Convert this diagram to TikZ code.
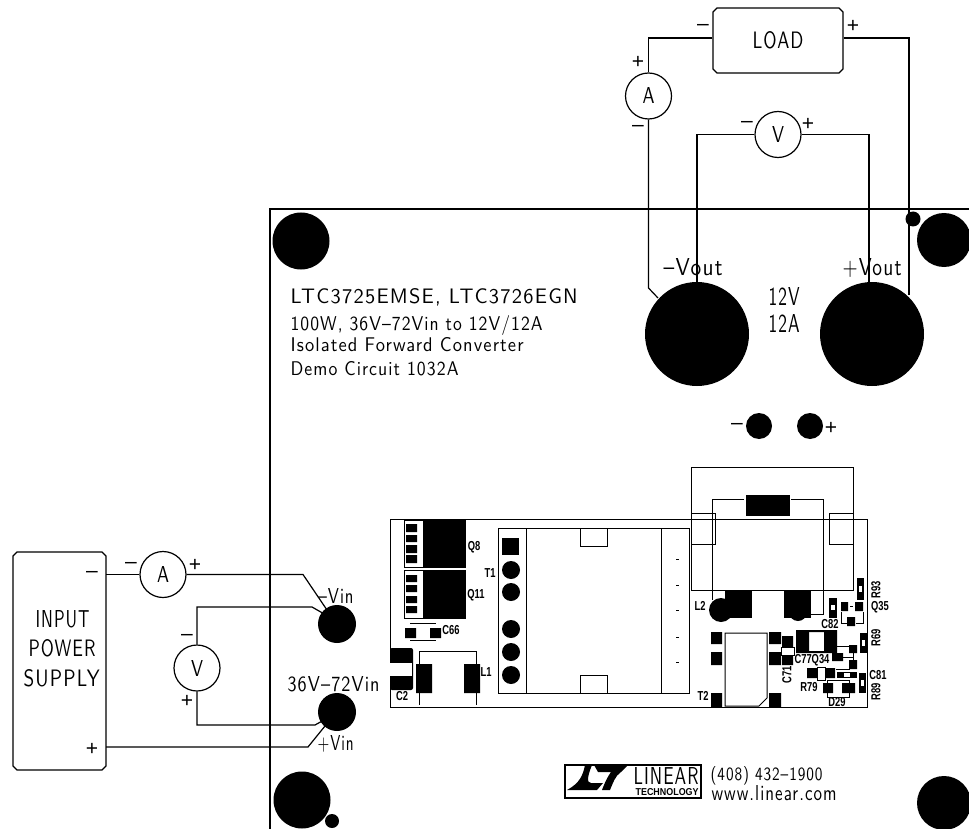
\documentclass[tikz,border=0pt]{standalone}
\usepackage{fontspec}
\setsansfont{Latin Modern Sans}[LetterSpace=6]
\newfontfamily\tagfont{Liberation Sans}[FakeStretch=0.72]
\newfontfamily\logofont{Liberation Sans}
\newcommand{\cad}[3]{\resizebox{#1pt}{#2pt}{\sffamily #3}}
\usetikzlibrary{positioning,calc,shapes.misc}
\tikzset{
	bench/.style={x=1pt,y=-1pt,line width=1.2pt,every node/.style={inner sep=0pt}},
	meter/.style={circle,draw,minimum size=46pt,fill=white},
	supply/.style={chamfered rectangle,chamfered rectangle xsep=2pt,chamfered rectangle ysep=2pt,draw},
	post/.style={circle,fill=black,inner sep=0pt},
	sign/.style={font=\logofont\fontsize{21}{21}\selectfont},
	lettering/.style={anchor=base west},
	tag/.style={font=\tagfont\bfseries\fontsize{13}{13}\selectfont},
	wire/.style={line width=1.2pt},
	outline/.style={line width=1pt}
}

\begin{document}
\begin{tikzpicture}[bench]
	\useasboundingbox (0,0) rectangle (969,829);

	\draw (969,209) -- (270,209) -- (270,829);

	\node[post,minimum size=57pt] (holea) at (301,241) {};
	\node[post,minimum size=54pt] (holeb) at (944,240) {};
	\node[post,minimum size=57pt] (holec) at (302,800) {};
	\node[post,minimum size=54pt] (holed) at (944,803) {};
	\node[post,minimum size=15pt] (dota) at (913,219) {};
	\node[post,minimum size=14pt] (dotb) at (332,821) {};

	\node[post,minimum size=104pt] (vneg) at (697,334) {};
	\node[post,minimum size=104pt] (vpos) at (872,334) {};
	\node[post,minimum size=26pt] (testneg) at (759,426) {};
	\node[post,minimum size=26pt] (testpos) at (810,426) {};
	\node[post,minimum size=38pt] (inneg) at (337,624) {};
	\node[post,minimum size=38pt] (inpos) at (337,712) {};

	\node[supply,minimum width=130pt,minimum height=65pt] (load) at (778,40.5) {\cad{51}{17}{LOAD}};
	\node[supply,minimum width=93pt,minimum height=218pt] (source) at (59.5,661) {\phantom{X}};
	\node[lettering] (inputa) at (35,627) {\cad{54}{17}{INPUT}};
	\node[lettering] (inputb) at (28,656) {\cad{67}{17}{POWER}};
	\node[lettering] (inputc) at (23,686) {\cad{76}{17}{SUPPLY}};
	\node[meter] (amout) at (648.5,96) {\cad{12}{16}{A}};
	\node[meter] (voltout) at (778,134.5) {\cad{12}{16}{V}};
	\node[meter] (amin) at (163,574.5) {\cad{12}{16}{A}};
	\node[meter] (voltin) at (197,668) {\cad{12}{16}{V}};

	\coordinate (loadl) at (648.5,38);
	\coordinate (loadr) at (909,38);
	\coordinate (amlow) at (648.5,288);
	\coordinate (negpin) at (658,298);
	\coordinate (posend) at (909,295);
	\coordinate (vlefta) at (697,134.5);
	\coordinate (vleftb) at (697,290);
	\coordinate (vrighta) at (869,134.5);
	\coordinate (vrightb) at (869,290);
	\coordinate (srcneg) at (106,574.5);
	\coordinate (srcpos) at (106,747);
	\coordinate (ambend) at (303,574.5);
	\coordinate (ampin) at (327,610);
	\coordinate (vtopa) at (197,607);
	\coordinate (vtopb) at (312,607);
	\coordinate (vtopc) at (326,615);
	\coordinate (vlowa) at (197,725);
	\coordinate (vlowb) at (315,725);
	\coordinate (vlowc) at (324,720);
	\coordinate (posbend) at (308,747);
	\coordinate (pospin) at (325,726);

	\draw[wire] (load.west |- loadl) -- (loadl) -- (amout.north);
	\draw[wire] (amout.south) -- (amlow) -- (negpin);
	\draw[wire] (load.east |- loadr) -- (loadr) -- (posend);
	\draw[wire] (voltout.west) -- (vlefta) -- (vleftb);
	\draw[wire] (voltout.east) -- (vrighta) -- (vrightb);
	\draw[wire] (srcneg) -- (amin.west);
	\draw[wire] (amin.east) -- (ambend) -- (ampin);
	\draw[wire] (voltin.north) -- (vtopa) -- (vtopb) -- (vtopc);
	\draw[wire] (voltin.south) -- (vlowa) -- (vlowb) -- (vlowc);
	\draw[wire] (srcpos) -- (posbend) -- (pospin);

	\node[sign] (la) at (703,27) {–};
	\node[sign] (lb) at (853,26) {+};
	\node[sign] (lc) at (638,62) {+};
	\node[sign] (ld) at (638,128) {–};
	\node[sign] (le) at (747,124) {–};
	\node[sign] (lf) at (808,124) {+};
	\node[sign] (lg) at (131,565) {–};
	\node[sign] (lh) at (195,565) {+};
	\node[sign] (li) at (92,574) {–};
	\node[sign] (lj) at (92,749) {+};
	\node[sign] (lk) at (187,637) {–};
	\node[sign] (ll) at (187,701) {+};
	\node[sign] (lm) at (737,426) {–};
	\node[sign] (ln) at (831,428) {+};

	\node[lettering] (outneg) at (663,275) {\cad{59}{17}{--Vout}};
	\node[lettering] (outpos) at (842,275) {\cad{59}{17}{+Vout}};
	\node[lettering] (outv) at (768,305) {\cad{31}{18}{12V}};
	\node[lettering] (outa) at (768,332) {\cad{31}{18}{12A}};
	\node[lettering] (titlea) at (290,303) {\cad{287}{15}{LTC3725EMSE, LTC3726EGN}};
	\node[lettering] (titleb) at (290,330) {\cad{252}{15}{100W, 36V--72Vin to 12V/12A}};
	\node[lettering] (titlec) at (290,351) {\cad{233}{14}{Isolated Forward Converter}};
	\node[lettering] (titled) at (290,375) {\cad{168}{14}{Demo Circuit 1032A}};
	\node[lettering] (vinneg) at (318,603) {\cad{35}{15}{--Vin}};
	\node[lettering] (vinrange) at (287,691) {\cad{92}{15}{36V--72Vin}};
	\node[lettering] (vinpos) at (317,750) {\cad{36}{15}{+Vin}};

	\draw[outline] (390,519) rectangle (867,707);

	\draw[outline] (404,520) rectangle (465,567);
	\fill (423,520) rectangle (465,567);
	\fill (406,524) rectangle (417,532) (406,535) rectangle (417,542) (406,545) rectangle (417,553) (406,555) rectangle (417,563);
	\draw[outline] (404,570) rectangle (465,618);
	\fill (423,570) rectangle (465,618);
	\fill (406,575) rectangle (417,582) (406,585) rectangle (417,592) (406,596) rectangle (417,603) (406,606) rectangle (417,613);

	\draw[outline] (410,623) -- (436,623) (410,640) -- (436,640);
	\fill (405,628) rectangle (416,638) (430,628) rectangle (441,638);

	\fill[rounded corners=2pt] (390,648) rectangle (413,690);
	\fill[white] (390,663) rectangle (412,676);
	\draw[outline] (419,664) -- (419,651) -- (476,651) -- (476,664) (419,693) -- (419,705) (476,693) -- (476,705);
	\fill (416,664) rectangle (432,693) (464,664) rectangle (480,693);

	\draw[outline] (498,528) rectangle (689,693);
	\draw[outline] (526,528) rectangle (661,693);
	\draw[outline] (580,528) rectangle (607,546);
	\draw[outline] (580,675) rectangle (607,693);
	\fill (502,538) rectangle (519,555);
	\node[post,minimum size=18pt] (tpina) at (511,570) {};
	\node[post,minimum size=18pt] (tpinb) at (511,592) {};
	\node[post,minimum size=18pt] (tpinc) at (511,629) {};
	\node[post,minimum size=18pt] (tpind) at (511,652) {};
	\node[post,minimum size=18pt] (tpine) at (511,675) {};
	\draw[outline] (676,559) -- (679,559) (676,585) -- (679,585) (676,610) -- (679,610) (676,637) -- (679,637) (676,662) -- (679,662);

	\draw[outline] (691,467) rectangle (853,590);
	\draw[outline] (691,513) rectangle (715,544);
	\draw[outline] (829,513) rectangle (853,544);
	\draw[outline] (744,499) -- (712,499) -- (712,600);
	\draw[outline] (791,499) -- (823,499) -- (823,614) -- (811,614);
	\fill (746,495) rectangle (790,516);
	\fill (725,590) rectangle (752,618);
	\node[post,minimum size=24pt] (ltwo) at (721,610) {};
	\fill (784,590) rectangle (811,618);
	\node[post,minimum size=18pt] (ltwob) at (798,612) {};

	\fill (711,632) rectangle (722,644) (711,652) rectangle (722,665) (711,693) rectangle (722,707);
	\fill (769,632) rectangle (781,644) (769,652) rectangle (781,665) (769,693) rectangle (781,707);
	\draw[outline] (725,706) -- (725,633) -- (767,633) -- (767,698) -- (759,706) -- cycle;

	\fill (782,636) rectangle (793,647) (782,655) rectangle (793,665);
	\draw[outline] (781,647) rectangle (794,655);

	\fill (796,630) rectangle (809,653) (824,630) rectangle (837,653);
	\fill (809,630) rectangle (824,632) (809,651) rectangle (824,653);

	\fill (857,578) rectangle (864,600);
	\fill[white] (859,586) rectangle (862,592);
	\fill (829,598) rectangle (837,618);
	\fill[white] (831,605) rectangle (835,610);
	\fill (841,602) rectangle (848,611) (855,602) rectangle (863,611) (847,617) rectangle (855,626);
	\draw[outline] (850,606.5) -- (853,606.5) (841,612) -- (841,623) -- (847,623) (863,612) -- (863,623) -- (856,623);
	\fill (860,633) rectangle (867,653);
	\fill[white] (862,640) rectangle (865,646);
	\fill (849,645) rectangle (857,653) (849,660) rectangle (857,669) (832,653) rectangle (843,661);
	\draw[outline] (837,646) -- (849,646) (843,657) -- (853,657) (853,653) -- (853,660) (836,669.5) -- (850,669.5);
	\fill (807,668) rectangle (817,678) (825,668) rectangle (835,678);
	\draw[outline] (817,667) -- (825,667) -- (825,680) -- (817,680) -- cycle;
	\fill (837,672) rectangle (857,678);
	\fill[white] (844,673) rectangle (850,677);
	\fill (859,673) rectangle (866,693);
	\fill[white] (861,680) rectangle (864,686);
	\fill (823,683) rectangle (833,693) (842,683) rectangle (855,693);
	\draw[outline] (827,680) rectangle (849,697);

	\node[tag] (tqa) at (474,547) {Q8};
	\node[tag] (tqb) at (476,595) {Q11};
	\node[tag] (tta) at (490,573) {T1};
	\node[tag] (tca) at (451,630) {C66};
	\node[tag] (tcb) at (402,696) {C2};
	\node[tag] (tla) at (486,672) {L1};
	\node[tag] (tlb) at (700,606) {L2};
	\node[tag] (ttb) at (703,696) {T2};
	\node[tag] (tcc) at (830,624) {C82};
	\node[tag] (tcd) at (812,660) {C77Q34};
	\node[tag,rotate=90] (tce) at (787,675) {C71};
	\node[tag] (trb) at (809,687) {R79};
	\node[tag] (tda) at (837,702) {D29};
	\node[tag,rotate=90] (tra) at (876,590) {R93};
	\node[tag] (tqc) at (880,607) {Q35};
	\node[tag,rotate=90] (trc) at (876,638) {R69};
	\node[tag] (tcf) at (878,675) {C81};
	\node[tag,rotate=90] (trd) at (876,692) {R89};

	\draw[line width=1.6pt] (565,765) rectangle (701,798);
	\fill (585,765) -- (592,765) .. controls (588,775) and (586,783) .. (591,783) -- (603,783) -- (597,790) -- (567,790) .. controls (580,783) and (583,775) .. cycle;
	\fill (594,765) -- (628,765) -- (621,772) .. controls (615,776) and (613,783) .. (610,790) -- (602,790) .. controls (605,782) and (608,776) .. (611,772) -- (598,772) -- cycle;
	\node[lettering] (logoa) at (633,784.5) {\cad{65}{17}{LINEAR}};
	\node[lettering,font=\logofont\bfseries] (logob) at (635,795) {\resizebox{63pt}{7pt}{TECHNOLOGY}};
	\node[lettering] (phone) at (710,780) {\cad{112}{14}{(408) 432--1900}};
	\node[lettering] (site) at (711,800) {\cad{125}{15}{www.linear.com}};
\end{tikzpicture}
\end{document}
